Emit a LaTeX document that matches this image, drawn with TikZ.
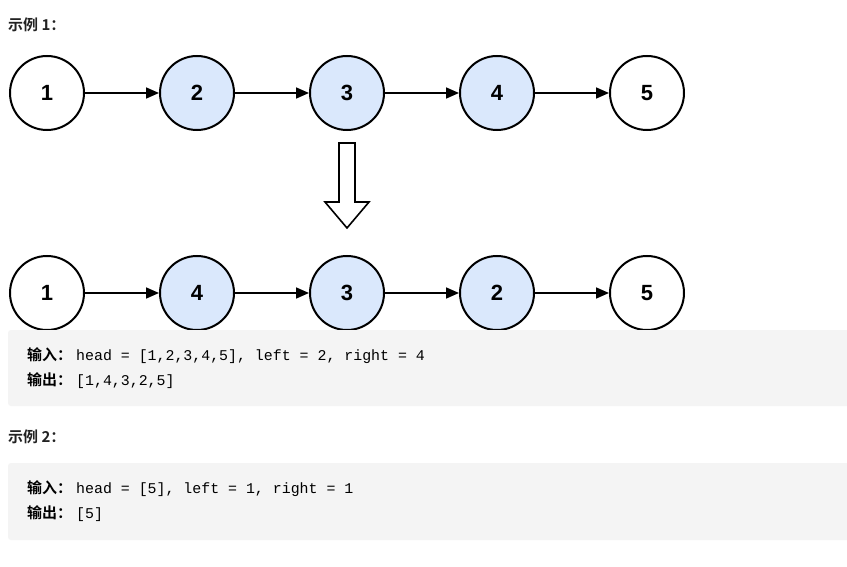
\documentclass[tikz,border=0pt]{standalone}
\usepackage{fontspec}
\setmainfont{Liberation Sans}
\newfontfamily\cjkfont{Noto Sans CJK SC}[BoldFont={* Bold}]
\newfontfamily\codefont{Liberation Mono}
\usetikzlibrary{arrows.meta}
\definecolor{nodeblue}{HTML}{DAE8FC}
\definecolor{codebg}{HTML}{F4F4F4}
\definecolor{txt}{HTML}{222222}
\tikzset{
  lnode/.style={circle, draw=black, line width=2pt, minimum size=74pt, inner sep=0pt, font=\fontsize{22}{24}\selectfont\bfseries},
  wnode/.style={lnode, fill=white},
  bnode/.style={lnode, fill=nodeblue},
  link/.style={line width=1.7pt, -{Triangle[length=13pt,width=11pt]}},
  codebox/.style={fill=codebg, rounded corners=3pt, draw=none},
  title/.style={anchor=west, inner sep=0pt, font=\cjkfont\bfseries\fontsize{15}{17}\selectfont, text=txt},
  codeline/.style={anchor=west, inner sep=0pt, text=black}
}
\newcommand{\cjkb}[1]{{\cjkfont\bfseries\fontsize{15}{17}\selectfont #1}\hspace{4pt}}
\newcommand{\cd}[1]{{\codefont\fontsize{14.9}{17}\selectfont #1}}
\begin{document}
\begin{tikzpicture}[x=1pt,y=-1pt]
\useasboundingbox (0,0) rectangle (847,567);
\fill[white] (0,0) rectangle (847,567);
\node[title] (t1) at (8,25) {示例 1：};
% row 1
\node[wnode] (a1) at (47,93) {1};
\node[bnode] (a2) at (197,93) {2};
\node[bnode] (a3) at (347,93) {3};
\node[bnode] (a4) at (497,93) {4};
\node[wnode] (a5) at (647,93) {5};
\draw[link] (a1) -- (a2);
\draw[link] (a2) -- (a3);
\draw[link] (a3) -- (a4);
\draw[link] (a4) -- (a5);
% hollow arrow
\draw[line width=1.6pt, line join=miter, fill=white] (339,143) -- (355,143) -- (355,202) -- (369,202) -- (347,228) -- (325,202) -- (339,202) -- cycle;
% row 2
\node[wnode] (b1) at (47,293) {1};
\node[bnode] (b2) at (197,293) {4};
\node[bnode] (b3) at (347,293) {3};
\node[bnode] (b4) at (497,293) {2};
\node[wnode] (b5) at (647,293) {5};
\draw[link] (b1) -- (b2);
\draw[link] (b2) -- (b3);
\draw[link] (b3) -- (b4);
\draw[link] (b4) -- (b5);
% code box 1
\fill[codebox] (8,330) rectangle (852,406);
\node[codeline] (c1) at (27,356) {\cjkb{输入：}\cd{head = [1,2,3,4,5], left = 2, right = 4}};
\node[codeline] (c2) at (27,381) {\cjkb{输出：}\cd{[1,4,3,2,5]}};
\node[title] (t2) at (8,437) {示例 2：};
% code box 2
\fill[codebox] (8,463) rectangle (852,540);
\node[codeline] (d1) at (27,489) {\cjkb{输入：}\cd{head = [5], left = 1, right = 1}};
\node[codeline] (d2) at (27,514) {\cjkb{输出：}\cd{[5]}};
\end{tikzpicture}
\end{document}
